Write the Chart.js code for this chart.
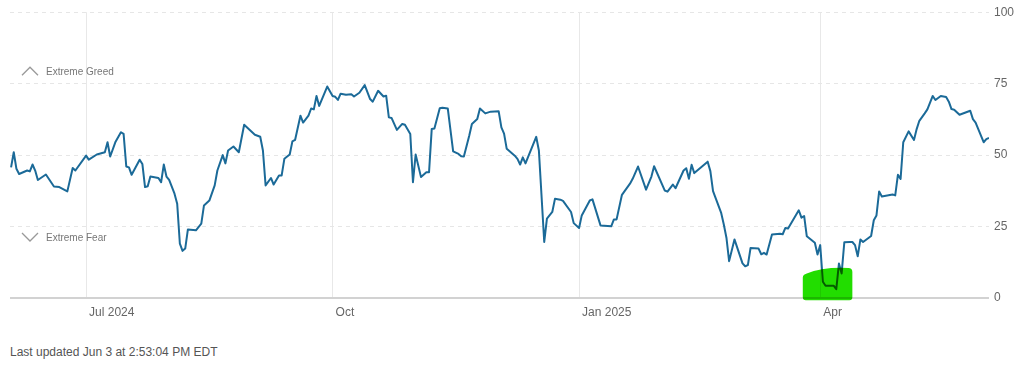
<!DOCTYPE html>
<html>
<head>
<meta charset="utf-8">
<script src="https://cdn.jsdelivr.net/npm/chart.js@4"></script>
<style>
  body { margin: 0; background: #fff; }
  #wrap { position: relative; width: 1024px; height: 330px; }
  #updated {
    position: absolute; left: 10px; top: 345px; margin: 0;
    font: 12px 'Liberation Sans', Arial, sans-serif; color: #555; line-height: 14px;
  }
</style>
</head>
<body>
<div id="wrap"><canvas id="fearGreedChart"></canvas></div>
<p id="updated">Last updated Jun 3 at 2:53:04 PM EDT</p>
<script>
// Days since Jun 3 2024, and the index value on that day
const days = [
  0, 1, 2, 3, 6, 7, 8, 9, 10, 13,
  16, 18, 21, 23, 24, 28, 29, 32, 35, 36,
  37, 39, 41, 42, 43, 44, 45, 48, 49, 50,
  51, 52, 55, 56, 57, 58, 59, 61, 62, 63,
  64, 65, 66, 69, 71, 72, 74, 76, 77, 79,
  80, 81, 83, 85, 87, 91, 93, 94, 95, 97,
  98, 100, 101, 102, 104, 105, 106, 108, 109, 111,
  112, 113, 114, 115, 118, 120, 121, 122, 123, 125,
  127, 128, 130, 132, 134, 135, 137, 139, 140, 141,
  142, 144, 146, 147, 149, 150, 151, 153, 155, 156,
  157, 158, 160, 161, 163, 165, 167, 168, 169, 171,
  172, 174, 175, 177, 179, 182, 183, 184, 185, 188,
  189, 190, 191, 192, 196, 197, 199, 200, 202, 203,
  205, 206, 209, 210, 212, 213, 216, 217, 220, 224,
  225, 226, 228, 231, 232, 234, 237, 239, 240, 244,
  245, 247, 248, 251, 252, 253, 254, 255, 260, 261,
  262, 265, 266, 267, 268, 270, 273, 274, 275, 276,
  279, 280, 281, 282, 284, 287, 288, 289, 290, 294,
  295, 296, 297, 300, 301, 302, 303, 304, 307, 308,
  309, 310, 311, 313, 314, 315, 316, 317, 318, 321,
  322, 323, 324, 325, 329, 330, 331, 332, 333, 335,
  337, 338, 339, 341, 342, 344, 345, 347, 349, 350,
  351, 352, 354, 358, 359, 360, 363, 364, 365
];
const scores = [
  45.7, 51, 45.2, 43.4, 44.6, 44.3, 46.7, 44.6, 41.3, 43.2,
  39, 38.8, 37.3, 45.5, 44.6, 49.8, 48.4, 50.2, 51, 54.5,
  49.5, 54.7, 58, 57.4, 46, 45.7, 43.1, 48.4, 46.9, 38.8,
  39.1, 42.5, 42, 40.5, 46.7, 42.5, 41.3, 36.5, 33, 19,
  16.5, 17.3, 24, 23.7, 26, 32.4, 34.1, 39.4, 44.6, 50,
  47.1, 51.6, 53, 51, 60.6, 57.1, 56.4, 51.6, 39.4, 42,
  39.7, 42.9, 42.9, 48.7, 50.2, 54.8, 55.3, 63.8, 61.4, 63.8,
  66.3, 66, 70.7, 67.2, 74, 70.7, 70.4, 69.3, 71.5, 71.1,
  71.3, 70.5, 71.8, 74.5, 69.6, 68.7, 72.5, 70.5, 70.8, 63.2,
  63, 58.8, 60.9, 60.6, 57.4, 40.5, 50.2, 42.3, 44, 44,
  59.1, 59.3, 66.4, 66.6, 66.3, 51.3, 50.4, 49.6, 49.5, 56.8,
  60.9, 62.6, 66.3, 64.6, 65.2, 65.3, 59.7, 57.5, 52.2, 49.8,
  48.7, 46.7, 49.2, 47.1, 56.4, 51.6, 19.6, 27.8, 30.1, 34.7,
  34.4, 34, 30.1, 26.2, 24.5, 28.9, 34.1, 34.5, 25.4, 25.1,
  27.5, 27.5, 36.1, 40, 41.7, 46, 37.9, 42.5, 46.1, 37.6,
  37.2, 39.7, 38.4, 44.6, 45.4, 41.7, 46.6, 43.7, 47.7, 44.4,
  37.4, 29.9, 25.8, 21.1, 12.9, 20.5, 12.1, 11.1, 11.5, 17.5,
  17.3, 15.3, 15.8, 15.2, 22.2, 22.5, 22.3, 24.5, 24.3, 30.7,
  28.1, 28.7, 21.6, 19.3, 15.2, 18.5, 5.7, 4.3, 4.3, 3.1,
  12.1, 8.6, 19.5, 19.6, 19.6, 18.5, 14.6, 20.5, 19.6, 21.7,
  27.2, 28.9, 37.3, 35.5, 36.2, 35.9, 43.1, 41.7, 54.5, 58.3,
  55.3, 59.1, 62, 64.6, 66, 70.7, 69.3, 70.7, 70.3, 68.7,
  66.1, 65.9, 64.1, 65.5, 62.6, 61.4, 54.5, 55.6, 56
];

// x axis ticks: Jul 1, Oct 1, Jan 1, Apr 1
const tickDays = [28, 120, 212, 302];
const tickLabels = ['Jul 2024', 'Oct', 'Jan 2025', 'Apr'];

const zoneLabels = [
  { text: 'Extreme Greed', value: 79, dir: 'up' },
  { text: 'Extreme Fear', value: 21, dir: 'down' }
];

// marker scribble over the April low
const highlight = { from: 295.5, to: 314, topLeft: 8.2, topRight: 10.5, bottom: -0.8 };

Chart.defaults.font.family = "'Liberation Sans', Arial, sans-serif";
Chart.defaults.font.size = 12;
Chart.defaults.color = '#666';

const zonePlugin = {
  id: 'zones',
  beforeDatasetsDraw(chart) {
    const { ctx, scales: { y } } = chart;
    ctx.save();
    zoneLabels.forEach(z => {
      const py = y.getPixelForValue(z.value);
      ctx.strokeStyle = '#999';
      ctx.lineWidth = 1.3;
      ctx.beginPath();
      if (z.dir === 'up') {
        ctx.moveTo(22, py + 3);
        ctx.lineTo(30, py - 5);
        ctx.lineTo(38, py + 3);
      } else {
        ctx.moveTo(22, py - 5);
        ctx.lineTo(30, py + 3);
        ctx.lineTo(38, py - 5);
      }
      ctx.stroke();
      ctx.fillStyle = '#777';
      ctx.font = "10px 'Liberation Sans', Arial, sans-serif";
      ctx.textBaseline = 'middle';
      ctx.fillText(z.text, 46, py);
    });
    ctx.restore();
  }
};

const highlightPlugin = {
  id: 'highlighter',
  afterDatasetsDraw(chart) {
    const { ctx, scales: { x, y } } = chart;
    const l = x.getPixelForValue(highlight.from);
    const r = x.getPixelForValue(highlight.to);
    const tl = y.getPixelForValue(highlight.topLeft);
    const tr = y.getPixelForValue(highlight.topRight);
    const b = y.getPixelForValue(highlight.bottom);
    ctx.save();
    ctx.globalCompositeOperation = 'multiply';
    ctx.fillStyle = '#22dd00';
    ctx.beginPath();
    ctx.moveTo(l + 3, b);
    ctx.quadraticCurveTo(l, b, l, b - 3);
    ctx.lineTo(l, tl + 3);
    ctx.quadraticCurveTo(l, tl, l + 4, tl - 1);
    ctx.quadraticCurveTo((l + r) / 2 - 6, tr - 1, r - 4, tr);
    ctx.quadraticCurveTo(r, tr, r, tr + 4);
    ctx.lineTo(r, b - 3);
    ctx.quadraticCurveTo(r, b, r - 3, b);
    ctx.closePath();
    ctx.fill();
    ctx.restore();
  }
};

new Chart(document.getElementById('fearGreedChart'), {
  type: 'line',
  data: {
    datasets: [{
      data: days.map((d, i) => ({ x: d, y: scores[i] })),
      borderColor: '#1b6a98',
      borderWidth: 2,
      pointRadius: 0,
      tension: 0,
      borderJoinStyle: 'round'
    }]
  },
  options: {
    responsive: true,
    maintainAspectRatio: false,
    animation: false,
    layout: { padding: { left: 10, top: 11, right: 0, bottom: 0 } },
    plugins: { legend: { display: false }, tooltip: { enabled: false } },
    scales: {
      x: {
        type: 'linear',
        min: -0.4,
        max: 365,
        afterBuildTicks: scale => { scale.ticks = tickDays.map(v => ({ value: v })); },
        afterFit: scale => { scale.height = 32; },
        ticks: {
          align: 'start',
          padding: 7,
          labelOffset: 3,
          autoSkip: false,
          maxRotation: 0,
          callback: value => tickLabels[tickDays.indexOf(value)]
        },
        grid: { color: '#e8e8e8', lineWidth: 1, drawTicks: false },
        border: { display: false }
      },
      y: {
        position: 'right',
        min: 0,
        max: 100,
        afterFit: scale => { scale.width = 35; },
        ticks: { stepSize: 25, padding: 5 },
        grid: {
          drawTicks: false,
          color: ctx => ctx.tick && ctx.tick.value === 0 ? '#d2d2d2' : '#e6e6e6',
          lineWidth: ctx => ctx.tick && ctx.tick.value === 0 ? 2 : 1
        },
        border: {
          display: false,
          dash: ctx => ctx.tick && ctx.tick.value === 0 ? [] : [4, 4]
        }
      }
    }
  },
  plugins: [zonePlugin, highlightPlugin]
});
</script>
</body>
</html>
